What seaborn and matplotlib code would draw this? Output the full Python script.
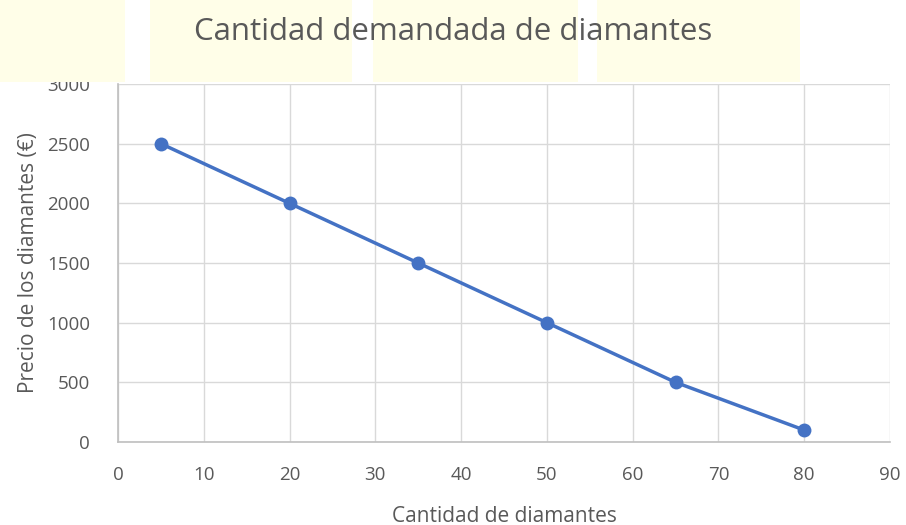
import matplotlib
matplotlib.use("Agg")
import matplotlib.pyplot as plt
import matplotlib.patches as mpatches
import pandas as pd
import seaborn as sns

# ==========================================================
# DATA
# ==========================================================

cantidad = [5, 20, 35, 50, 65, 80]
precio = [2500, 2000, 1500, 1000, 500, 100]

x_ticks = [0, 10, 20, 30, 40, 50, 60, 70, 80, 90]
y_ticks = [0, 500, 1000, 1500, 2000, 2500, 3000]

df = pd.DataFrame({"cantidad": cantidad, "precio": precio})

# ==========================================================
# STYLE
# ==========================================================

sns.set_theme(style="whitegrid")
plt.rcParams["font.family"] = ["Open Sans", "DejaVu Sans"]

text_color = "#595959"
grid_color = "#D9D9D9"
line_color = "#4472C4"

fig = plt.figure(figsize=(9.06, 5.25), dpi=100)

# faint yellow highlight bands behind the title
for x0, x1 in [(0, 125), (150, 352), (373, 578), (597, 800)]:
    fig.patches.append(mpatches.Rectangle(
        (x0 / 906, 1 - 82 / 525), (x1 - x0) / 906, 82 / 525,
        transform=fig.transFigure, facecolor="#FFFEE8", edgecolor="none", zorder=0))

ax = fig.add_axes([118 / 906, 1 - 442 / 525, (890 - 118) / 906, (442 - 84) / 525])
ax.set_facecolor("none")

sns.lineplot(data=df, x="cantidad", y="precio", ax=ax, color=line_color,
             linewidth=2.5, marker="o", markersize=10, markeredgewidth=0)

ax.set_xlim(0, 90)
ax.set_ylim(0, 3000)
ax.set_xticks(x_ticks)
ax.set_yticks(y_ticks)
ax.grid(True, color=grid_color, linewidth=1)

for side in ["top", "right"]:
    ax.spines[side].set_visible(False)
for side in ["left", "bottom"]:
    ax.spines[side].set_color("#BFBFBF")
    ax.spines[side].set_linewidth(1.2)

ax.tick_params(axis="x", colors=text_color, labelsize=13.5, pad=17, length=0)
ax.tick_params(axis="y", colors=text_color, labelsize=13.5, pad=20, length=0)

ax.set_xlabel("Cantidad de diamantes", color=text_color, fontsize=15, labelpad=16)
ax.set_ylabel("Precio de los diamantes (€)", color=text_color, fontsize=15, labelpad=6)

fig.text(453 / 906, 1 - 32 / 525, "Cantidad demandada de diamantes",
         ha="center", va="center", color=text_color, fontsize=22.5)

fig.savefig("out.png", dpi=100)
